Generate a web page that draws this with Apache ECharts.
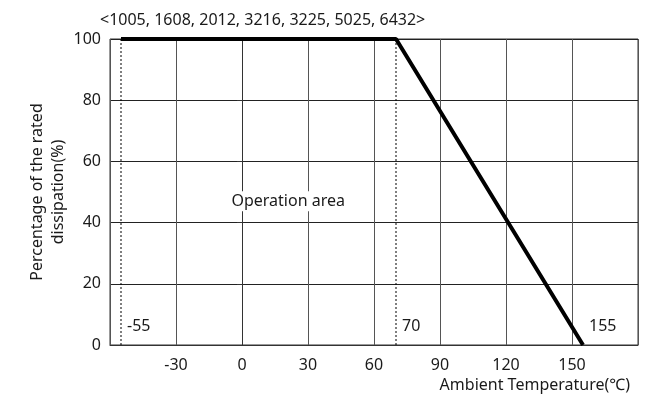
<!DOCTYPE html>
<html><head><meta charset="utf-8">
<script src="https://cdn.jsdelivr.net/npm/echarts@6/dist/echarts.min.js"></script>
<style>html,body{margin:0;padding:0;background:#fff}#c{width:656px;height:403px}</style>
</head><body><div id="c"></div>
<script>
const titleText = '<1005, 1608, 2012, 3216, 3225, 5025, 6432>';
const xName = 'Ambient Temperature(℃)';
const yName = 'Percentage of the rated\ndissipation(%)';
const deratingX = [-55, 70, 155];
const deratingY = [100, 100, 0];
const markerTemps = [-55, 70];
const markerLabels = ['-55', '70', '155'];
const xTicks = [-30, 0, 30, 60, 90, 120, 150];
const FONT = '"Noto Sans", "Open Sans", sans-serif';
const TXT = '#1a1a1a';
const FS = 16;

const chart = echarts.init(document.getElementById('c'), null, {renderer: 'canvas'});
const lineData = deratingX.map((x, i) => [x, deratingY[i]]);
const dotted = markerTemps.map(t => ({
  type: 'line', data: [[t, 0], [t, 100]], symbol: 'none', silent: true,
  lineStyle: {color: '#000', width: 1, type: [2, 2]}, z: 3
}));
chart.setOption({
  animation: false,
  textStyle: {fontFamily: FONT},
  title: {text: titleText, left: 95, top: 7,
    textStyle: {fontFamily: FONT, fontSize: FS, fontWeight: 'normal', color: TXT}},
  grid: {left: 110, right: 18, top: 39, bottom: 58, show: true, borderColor: '#333', borderWidth: 1,
    outerBoundsMode: 'none', containLabel: false},
  xAxis: {type: 'value', min: -60, max: 180, interval: 30,
    axisLine: {show: true, onZero: false, lineStyle: {color: '#333'}},
    axisTick: {show: false},
    axisLabel: {fontSize: FS, color: TXT, margin: 12, fontFamily: FONT,
      formatter: v => xTicks.includes(v) ? String(v) : ''},
    splitLine: {show: true, lineStyle: {color: '#555', width: 1}}
  },
  yAxis: {type: 'value', min: 0, max: 100, interval: 20,
    name: yName, nameLocation: 'middle', nameGap: 41, nameRotate: 90, nameMoveOverlap: false,
    nameTextStyle: {fontSize: FS, color: TXT, fontFamily: FONT, lineHeight: 21},
    axisLine: {show: true, lineStyle: {color: '#333'}},
    axisTick: {show: true, length: 5, lineStyle: {color: '#333'}},
    axisLabel: {fontSize: FS, color: TXT, margin: 9, fontFamily: FONT},
    splitLine: {show: true, lineStyle: {color: '#222', width: 1}}
  },
  series: [
    ...dotted,
    {type: 'line', data: lineData, symbol: 'none', lineStyle: {color: '#000', width: 4}, z: 5},
    {type: 'scatter', symbolSize: 0, z: 6, itemStyle: {opacity: 1, color: '#000'},
      emphasis: {disabled: true},
      data: [{value: [-55, 6], name: markerLabels[0]}, {value: [70, 6], name: markerLabels[1]}, {value: [155, 6], name: markerLabels[2]}],
      label: {show: true, formatter: p => p.name, position: 'right', distance: 6,
        fontSize: FS, color: TXT, fontFamily: FONT, backgroundColor: '#fff'}
    },
    {type: 'scatter', symbolSize: 0, z: 6, itemStyle: {opacity: 1, color: '#000'},
      emphasis: {disabled: true},
      data: [{value: [21, 47], name: 'Operation area'}],
      label: {show: true, formatter: p => p.name, position: 'inside',
        fontSize: FS, color: TXT, fontFamily: FONT, backgroundColor: '#fff', padding: [2, 2]}
    }
  ],
  graphic: [{type: 'text', right: 26, top: 377,
    style: {text: xName, font: FS + 'px ' + FONT, fill: TXT}}]
});
</script></body></html>
